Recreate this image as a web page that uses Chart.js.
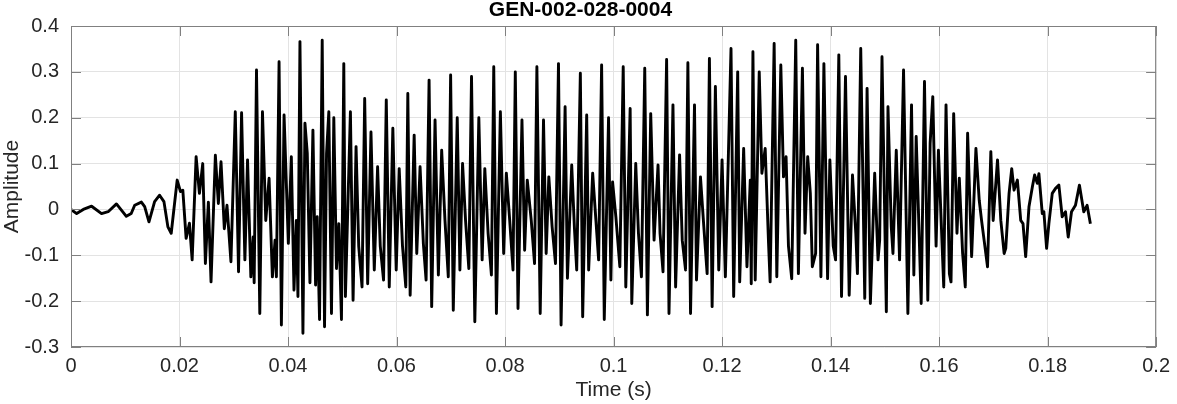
<!DOCTYPE html>
<html>
<head>
<meta charset="utf-8">
<script src="https://cdn.jsdelivr.net/npm/chart.js@4.4.1/dist/chart.umd.min.js"></script>
<style>
html, body { margin: 0; padding: 0; background: #fff; }
</style>
</head>
<body>
<canvas id="waveChart" width="1177" height="404"></canvas>
<script>
// traced turning points of the waveform (seconds / amplitude)
var times = [
    0, 0.00104, 0.00226, 0.0038, 0.00563, 0.00685, 0.00838, 0.0102, 0.0111, 0.01174,
    0.01297, 0.01358, 0.01437, 0.01541, 0.01633, 0.01713, 0.01786, 0.01847, 0.01957, 0.02018,
    0.02061, 0.02122, 0.02183, 0.02233, 0.02306, 0.02367, 0.02428, 0.02477, 0.02532, 0.02581,
    0.02661, 0.02716, 0.02765, 0.02826, 0.02875, 0.02948, 0.03028, 0.03088, 0.03144, 0.03205,
    0.03254, 0.03315, 0.03358, 0.03376, 0.03419, 0.0348, 0.03529, 0.0359, 0.03651, 0.03712,
    0.03761, 0.03786, 0.03835, 0.03878, 0.03927, 0.04006, 0.04061, 0.0411, 0.04153, 0.04183,
    0.0422, 0.04275, 0.04312, 0.04355, 0.04404, 0.04459, 0.04508, 0.04538, 0.04581, 0.0463,
    0.04673, 0.0471, 0.04752, 0.04801, 0.04844, 0.04893, 0.04936, 0.04985, 0.05028, 0.05058,
    0.0515, 0.05199, 0.05254, 0.05303, 0.05364, 0.05413, 0.05468, 0.05529, 0.0559, 0.05651,
    0.057, 0.05761, 0.05811, 0.05866, 0.05932, 0.05994, 0.06049, 0.0611, 0.06171, 0.06208,
    0.06251, 0.06325, 0.06373, 0.06434, 0.06495, 0.06545, 0.066, 0.06648, 0.0671, 0.06771,
    0.06832, 0.06893, 0.06954, 0.06997, 0.07046, 0.07119, 0.07168, 0.07217, 0.07272, 0.07333,
    0.07382, 0.07443, 0.07517, 0.07578, 0.07627, 0.07688, 0.07749, 0.07792, 0.07841, 0.07914,
    0.07975, 0.08024, 0.08086, 0.08147, 0.08189, 0.08239, 0.08312, 0.08361, 0.0841, 0.08483,
    0.08544, 0.08587, 0.08648, 0.08709, 0.08758, 0.08807, 0.08868, 0.0893, 0.08985, 0.09033,
    0.09107, 0.0915, 0.09229, 0.09278, 0.09321, 0.09388, 0.09431, 0.09505, 0.09541, 0.09615,
    0.09675, 0.09725, 0.0978, 0.09829, 0.09908, 0.09951, 0.09982, 0.10043, 0.10116, 0.10178,
    0.10226, 0.10306, 0.10336, 0.10409, 0.10459, 0.10514, 0.10575, 0.10624, 0.10685, 0.10747,
    0.1082, 0.10857, 0.10912, 0.10978, 0.11022, 0.11095, 0.11144, 0.11217, 0.11266, 0.11327,
    0.1137, 0.11419, 0.11492, 0.11529, 0.11602, 0.11664, 0.11725, 0.11767, 0.11817, 0.11877,
    0.11939, 0.12, 0.12061, 0.12165, 0.12214, 0.12288, 0.12325, 0.12398, 0.12459, 0.1252,
    0.12538, 0.12569, 0.12611, 0.12685, 0.12734, 0.12795, 0.12857, 0.12886, 0.1296, 0.13009,
    0.13083, 0.13132, 0.1318, 0.13224, 0.13284, 0.13358, 0.13407, 0.13481, 0.13529, 0.13578,
    0.13627, 0.13664, 0.13725, 0.13761, 0.13822, 0.13877, 0.13945, 0.13987, 0.14049, 0.14092,
    0.14152, 0.14202, 0.14275, 0.14343, 0.14404, 0.14465, 0.14495, 0.14556, 0.1463, 0.14673,
    0.14734, 0.14813, 0.14875, 0.14905, 0.14948, 0.15028, 0.15058, 0.15119, 0.1515, 0.15211,
    0.15272, 0.15345, 0.15425, 0.15492, 0.15535, 0.15578, 0.15639, 0.1567, 0.15731, 0.15792,
    0.15835, 0.15884, 0.15945, 0.15988, 0.16086, 0.16128, 0.1619, 0.1622, 0.16269, 0.1633,
    0.16373, 0.16434, 0.16483, 0.16526, 0.166, 0.16679, 0.1674, 0.16783, 0.16844, 0.16893,
    0.16954, 0.16997, 0.17077, 0.17138, 0.17199, 0.17229, 0.1729, 0.17339, 0.17382, 0.17443,
    0.17505, 0.17547, 0.17596, 0.17657, 0.17719, 0.17761, 0.1781, 0.1784, 0.17902, 0.17931,
    0.17982, 0.18024, 0.18086, 0.18147, 0.18208, 0.18269, 0.1833, 0.1838, 0.18441, 0.18514,
    0.18587, 0.18667, 0.18728, 0.18789
];
var amps = [
    0, -0.009, 0, 0.007, -0.009, -0.005, 0.012, -0.015, -0.009, 0.009,
    0.016, 0.006, -0.027, 0.017, 0.031, 0.017, -0.038, -0.052, 0.064, 0.039,
    0.042, -0.063, -0.03, -0.11, 0.115, 0.035, 0.1, -0.118, 0.016, -0.158,
    0.118, 0.013, 0.104, -0.042, 0.009, -0.114, 0.213, -0.136, 0.211, -0.11,
    0.108, -0.147, -0.06, -0.16, 0.304, -0.227, 0.213, -0.024, 0.068, -0.147,
    -0.067, -0.147, 0.322, -0.252, 0.206, -0.074, 0.115, -0.176, -0.024, -0.19,
    0.366, -0.27, 0.188, 0.122, -0.16, 0.173, -0.165, -0.016, -0.24, 0.369,
    -0.256, 0.122, 0.213, -0.227, 0.2, -0.129, -0.031, -0.24, 0.318, -0.19,
    0.213, -0.198, 0.137, -0.08, -0.169, 0.242, -0.162, 0.169, -0.132, 0.093,
    -0.08, -0.154, 0.239, -0.169, 0.177, -0.132, 0.089, -0.08, -0.169, 0.253,
    -0.187, 0.162, -0.096, 0.093, -0.075, -0.154, 0.282, -0.212, 0.195, -0.143,
    0.129, -0.024, -0.147, 0.293, -0.22, 0.2, -0.132, 0.1, -0.024, -0.129,
    0.29, -0.245, 0.2, -0.11, 0.089, -0.052, -0.143, 0.311, -0.227, 0.213,
    -0.096, 0.079, -0.024, -0.132, 0.3, -0.216, 0.195, -0.089, 0.064, -0.024,
    -0.118, 0.311, -0.227, 0.195, -0.096, 0.071, -0.038, -0.118, 0.318, -0.252,
    0.224, -0.15, 0.097, -0.038, -0.132, 0.297, -0.234, 0.206, -0.132, 0.079,
    -0.024, -0.11, 0.315, -0.24, 0.2, -0.154, 0.06, -0.016, -0.125, 0.311,
    -0.169, 0.22, -0.205, 0.1, -0.052, -0.147, 0.308, -0.23, 0.209, -0.067,
    0.097, -0.052, -0.136, 0.327, -0.227, 0.228, -0.169, 0.119, -0.067, -0.132,
    0.32, -0.227, 0.228, -0.154, 0.071, -0.038, -0.14, 0.329, -0.212, 0.268,
    -0.132, 0.108, -0.147, 0.351, -0.19, 0.3, -0.158, 0.133, -0.125, 0.064,
    -0.162, 0.344, -0.154, 0.3, 0.079, 0.133, -0.074, -0.158, 0.362, -0.147,
    0.315, 0.071, 0.115, -0.08, -0.151, 0.369, -0.14, 0.308, -0.052, 0.115,
    0.035, -0.125, -0.096, 0.359, -0.147, 0.318, -0.151, 0.108, -0.08, -0.11,
    0.337, -0.19, 0.29, -0.187, 0.075, -0.052, -0.14, 0.351, -0.194, 0.264,
    -0.205, 0.079, -0.11, -0.067, 0.333, -0.223, 0.224, -0.038, -0.096, 0.129,
    -0.11, 0.304, -0.227, 0.228, -0.143, 0.159, -0.08, -0.205, 0.279, -0.198,
    0.144, 0.246, -0.08, 0.129, -0.169, 0.228, -0.14, -0.158, 0.209, -0.052,
    0.068, -0.096, -0.169, 0.166, -0.103, 0.133, 0.02, -0.024, -0.08, -0.125,
    0.126, -0.024, 0.108, -0.024, -0.096, -0.085, 0.035, 0.089, 0.042, 0.064,
    -0.024, -0.031, -0.103, 0.006, 0.049, 0.075, 0.057, 0.078, -0.009, -0.005,
    -0.085, -0.031, 0.035, 0.046, 0.053, -0.016, -0.005, -0.06, -0.005, 0.009,
    0.053, -0.005, 0.009, -0.031
];
var xTicks = [0, 0.02, 0.04, 0.06, 0.08, 0.1, 0.12, 0.14, 0.16, 0.18, 0.2];
var yTicks = [-0.3, -0.2, -0.1, 0, 0.1, 0.2, 0.3, 0.4];

var points = times.map(function (t, i) { return { x: t, y: amps[i] }; });
var fontFam = "'Liberation Sans', Arial, Helvetica, sans-serif";
var axisGray = '#808080';

function fmt(v) { return String(+Number(v).toFixed(2)); }

// matlab-like box around the axes with inward ticks
var axesBox = {
    id: 'axesBox',
    afterDatasetsDraw: function (chart) {
        var ctx = chart.ctx, a = chart.chartArea;
        var xs = chart.scales.x, ys = chart.scales.y;
        ctx.save();
        ctx.strokeStyle = axisGray;
        ctx.lineWidth = 1;
        ctx.strokeRect(a.left + 0.5, a.top + 0.5, a.right - a.left - 1, a.bottom - a.top - 1);
        ctx.beginPath();
        xTicks.forEach(function (t) {
            var p = Math.round(xs.getPixelForValue(t)) + 0.5;
            ctx.moveTo(p, a.bottom); ctx.lineTo(p, a.bottom - 10);
            ctx.moveTo(p, a.top); ctx.lineTo(p, a.top + 10);
        });
        yTicks.forEach(function (v) {
            var p = Math.round(ys.getPixelForValue(v)) + 0.5;
            ctx.moveTo(a.left, p); ctx.lineTo(a.left + 10, p);
            ctx.moveTo(a.right, p); ctx.lineTo(a.right - 10, p);
        });
        ctx.stroke();
        ctx.restore();
    }
};

var waveChart = new Chart(document.getElementById('waveChart'), {
    type: 'line',
    data: {
        datasets: [{
            data: points,
            borderColor: '#000000',
            borderWidth: 2.9,
            pointRadius: 0,
            tension: 0,
            borderJoinStyle: 'round',
            fill: false
        }]
    },
    options: {
        responsive: false,
        animation: false,
        devicePixelRatio: 1,
        layout: { padding: { left: 0, right: 16, top: 0, bottom: 0 } },
        plugins: {
            legend: { display: false },
            tooltip: { enabled: false },
            title: {
                display: true,
                text: 'GEN-002-028-0004',
                color: '#000000',
                font: { family: fontFam, size: 21, weight: 'bold', lineHeight: 1 },
                padding: { top: 0, bottom: 5 }
            }
        },
        scales: {
            x: {
                type: 'linear',
                min: 0,
                max: 0.2,
                afterBuildTicks: function (scale) { scale.ticks = xTicks.map(function (v) { return { value: v }; }); },
                afterFit: function (scale) { scale.height = 57; },
                ticks: {
                    color: '#262626',
                    font: { family: fontFam, size: 20 },
                    padding: 7,
                    maxRotation: 0,
                    callback: function (v) { return fmt(v); }
                },
                grid: { color: '#e3e3e3', drawTicks: false },
                border: { display: false },
                title: {
                    display: true,
                    text: 'Time (s)',
                    color: '#262626',
                    font: { family: fontFam, size: 21 },
                    padding: { top: 0, bottom: 1 }
                }
            },
            y: {
                min: -0.3,
                max: 0.4,
                afterBuildTicks: function (scale) { scale.ticks = yTicks.map(function (v) { return { value: v }; }); },
                afterFit: function (scale) { scale.width = 71; },
                ticks: {
                    color: '#262626',
                    font: { family: fontFam, size: 20 },
                    padding: 12,
                    callback: function (v) { return fmt(v); }
                },
                grid: { color: '#e3e3e3', drawTicks: false },
                border: { display: false },
                title: {
                    display: true,
                    text: 'Amplitude',
                    color: '#262626',
                    font: { family: fontFam, size: 21 },
                    padding: { top: 0, bottom: 0 }
                }
            }
        }
    },
    plugins: [axesBox]
});
</script>
</body>
</html>
